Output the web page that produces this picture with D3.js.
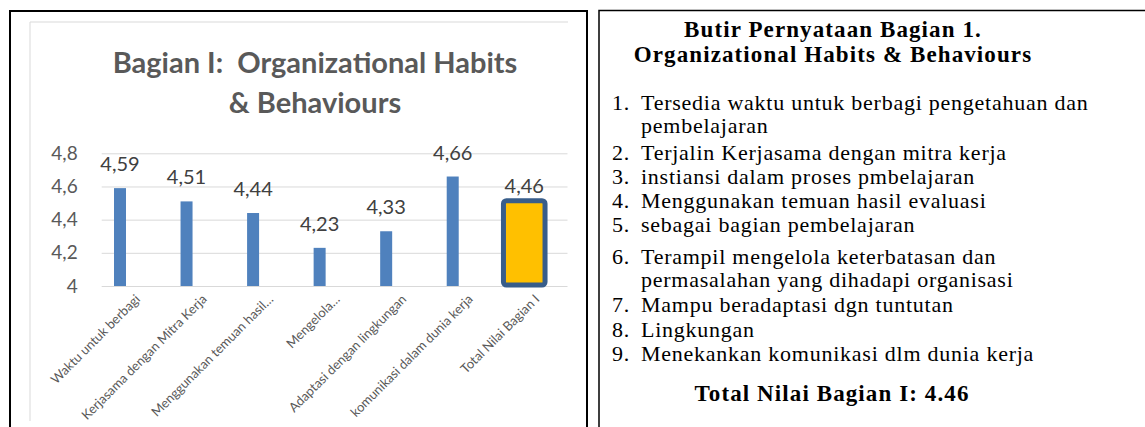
<!DOCTYPE html>
<html>
<head>
<meta charset="utf-8">
<script src="https://cdn.jsdelivr.net/npm/d3@7"></script>
<style>
  html, body { margin: 0; padding: 0; background: #fff; }
  svg { display: block; }
</style>
</head>
<body>
<div id="chart"></div>
<script>
// Chart data
const categories = [
    "Waktu untuk berbagi",
    "Kerjasama dengan Mitra Kerja",
    "Menggunakan temuan hasil…",
    "Mengelola…",
    "Adaptasi dengan lingkungan",
    "komunikasi dalam dunia kerja",
    "Total Nilai Bagian I"
];
const values = [4.59, 4.51, 4.44, 4.23, 4.33, 4.66, 4.46];
const yTicks = [4, 4.2, 4.4, 4.6, 4.8];
const chartTitle = ["Bagian I:  Organizational Habits", "& Behaviours"];

// Right panel text
const panelHeading = ["Butir Pernyataan Bagian 1.", "Organizational Habits & Behaviours"];
const statements = [
    ["Tersedia waktu untuk berbagi pengetahuan dan", "pembelajaran"],
    ["Terjalin Kerjasama dengan mitra kerja"],
    ["instiansi dalam proses pmbelajaran"],
    ["Menggunakan temuan hasil evaluasi"],
    ["sebagai bagian pembelajaran"],
    ["Terampil mengelola keterbatasan dan", "permasalahan yang dihadapi organisasi"],
    ["Mampu beradaptasi dgn tuntutan"],
    ["Lingkungan"],
    ["Menekankan komunikasi dlm dunia kerja"]
];
const totalText = "Total Nilai Bagian I: 4.46";

const width = 1145;
const height = 427;

const svg = d3.select("#chart")
    .append("svg")
    .attr("width", width)
    .attr("height", height);

svg.append("rect").attr("width", width).attr("height", height).attr("fill", "#fff");

// Comma decimal like the original
const locale = d3.formatLocale({ decimal: ",", thousands: ".", grouping: [3], currency: ["", ""] });
const fmtTick = locale.format(".1~f");
const fmtValue = locale.format(".2f");

const sans = "Lato, 'Open Sans', sans-serif";

// ---------- left panel ----------
svg.append("path")
    .attr("d", `M10,440V11H587V440`)
    .attr("fill", "none")
    .attr("stroke", "#000")
    .attr("stroke-width", 2);

// chart area border (top and left visible)
svg.append("path")
    .attr("d", `M30,421V22H568`)
    .attr("fill", "none")
    .attr("stroke", "#d9d9d9")
    .attr("stroke-width", 1);

svg.append("g")
    .selectAll("text")
    .data(chartTitle)
    .join("text")
    .attr("x", 315)
    .attr("y", (d, i) => 73 + i * 40)
    .attr("text-anchor", "middle")
    .attr("font-family", sans)
    .attr("font-weight", "bold")
    .attr("font-size", 29)
    .attr("fill", "#595959")
    .style("white-space", "pre")
    .text(d => d);

const x = d3.scaleBand()
    .domain(categories)
    .range([101.7, 567.5])
    .padding(0);

const y = d3.scaleLinear()
    .domain([4, 4.8])
    .range([286, 153.3]);

// gridlines
svg.append("g")
    .selectAll("line")
    .data(yTicks)
    .join("line")
    .attr("x1", x.range()[0])
    .attr("x2", x.range()[1])
    .attr("y1", d => y(d) + 0.5)
    .attr("y2", d => y(d) + 0.5)
    .attr("stroke", "#d9d9d9")
    .attr("stroke-width", 1);

// y axis labels
const yAxis = d3.axisLeft(y)
    .tickValues(yTicks)
    .tickFormat(fmtTick)
    .tickSize(0)
    .tickPadding(24);

svg.append("g")
    .attr("transform", `translate(${x.range()[0]},0)`)
    .call(yAxis)
    .call(g => g.select(".domain").remove())
    .call(g => g.selectAll("text")
        .attr("font-family", sans)
        .attr("font-size", 19)
        .attr("fill", "#595959"));

const bw = x.bandwidth();
const barW = 12;
const blueCenter = c => x(c) + bw * 0.275;
const totalCenter = c => x(c) + bw * 0.35;

const data = categories.map((c, i) => ({ cat: c, value: values[i], total: i === categories.length - 1 }));

// blue bars
svg.append("g")
    .selectAll("rect")
    .data(data.filter(d => !d.total))
    .join("rect")
    .attr("x", d => blueCenter(d.cat) - barW / 2)
    .attr("y", d => y(d.value))
    .attr("width", barW)
    .attr("height", d => y(4) - y(d.value))
    .attr("fill", "#4f81bd");

// highlighted total bar
const frame = 5;
svg.append("g")
    .selectAll("rect")
    .data(data.filter(d => d.total))
    .join("rect")
    .attr("x", d => x(d.cat) + frame / 2)
    .attr("y", d => y(d.value) - 9)
    .attr("width", bw * 0.7 - frame)
    .attr("height", d => y(4) - 1 - (y(d.value) - 9))
    .attr("rx", 3)
    .attr("fill", "#ffc000")
    .attr("stroke", "#385d8a")
    .attr("stroke-width", frame);

// value labels
svg.append("g")
    .selectAll("text")
    .data(data)
    .join("text")
    .attr("x", d => d.total ? totalCenter(d.cat) : blueCenter(d.cat))
    .attr("y", d => y(d.value) - 17)
    .attr("text-anchor", "middle")
    .attr("font-family", sans)
    .attr("font-size", 20)
    .attr("fill", "#404040")
    .text(d => fmtValue(d.value));

// rotated category labels
svg.append("g")
    .selectAll("text")
    .data(categories)
    .join("text")
    .attr("transform", d => `translate(${x(d) + bw / 2 + 6},${300}) rotate(-45)`)
    .attr("text-anchor", "end")
    .attr("font-family", sans)
    .attr("font-size", 13)
    .attr("fill", "#595959")
    .text(d => d);

// ---------- right panel ----------
svg.append("path")
    .attr("d", `M599,440V10.5H1150`)
    .attr("fill", "none")
    .attr("stroke", "#000")
    .attr("stroke-width", 1.5);

const serif = "'Liberation Serif', 'DejaVu Serif', serif";

// heading as one text block
const heading = svg.append("text")
    .attr("text-anchor", "middle")
    .attr("font-family", serif)
    .attr("font-weight", "bold")
    .attr("font-size", 23)
    .attr("letter-spacing", 1.1)
    .attr("fill", "#000");

heading.selectAll("tspan")
    .data(panelHeading)
    .join("tspan")
    .attr("x", 833)
    .attr("y", (d, i) => 37 + i * 24.5)
    .text(d => d);

// baselines of each statement's first line
const rowY = [110, 160, 184, 208, 232, 264, 312, 337, 361];
const contGap = 23;

const items = svg.append("g")
    .attr("font-family", serif)
    .attr("font-size", 22)
    .attr("letter-spacing", 0.75)
    .attr("fill", "#000");

statements.forEach((lines, i) => {
    items.append("text")
        .attr("x", 612)
        .attr("y", rowY[i])
        .text(`${i + 1}.`);
    items.append("text")
        .selectAll("tspan")
        .data(lines)
        .join("tspan")
        .attr("x", 641)
        .attr("y", (d, j) => rowY[i] + j * contGap)
        .text(d => d);
});

svg.append("text")
    .attr("x", 832)
    .attr("y", 401)
    .attr("text-anchor", "middle")
    .attr("font-family", serif)
    .attr("font-weight", "bold")
    .attr("font-size", 23)
    .attr("letter-spacing", 1.1)
    .attr("fill", "#000")
    .text(totalText);
</script>
</body>
</html>
